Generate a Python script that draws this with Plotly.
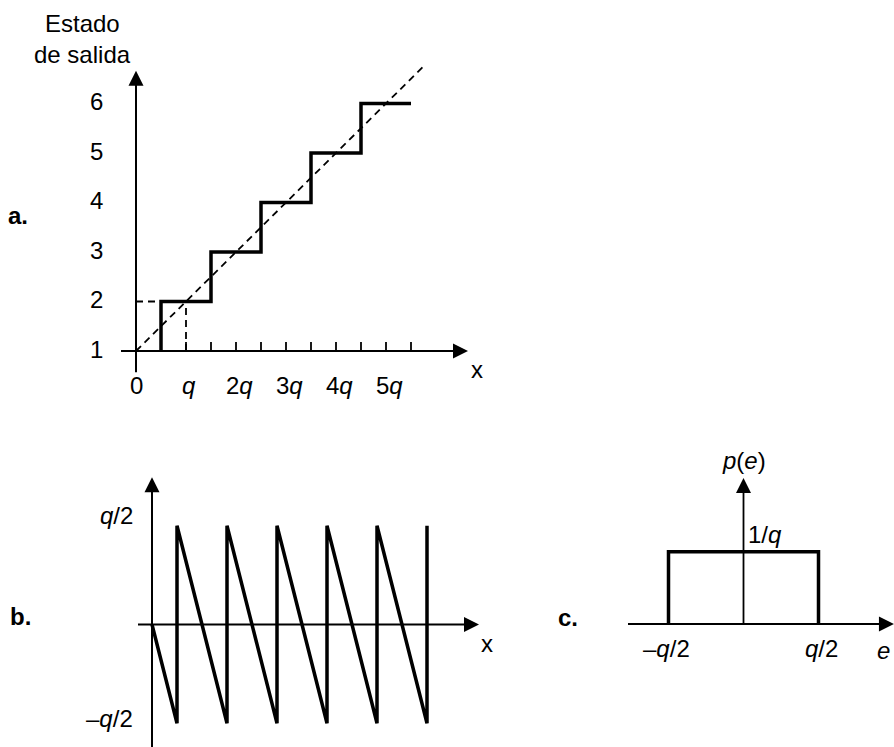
import plotly.graph_objects as go

W, H = 894, 747
FONT = "Liberation Sans, Arial, sans-serif"
FS = 24

# ---------- Panel a: quantizer staircase ----------
a_levels = [1, 2, 3, 4, 5, 6]
a_stair_x = [0.5, 0.5, 1.5, 1.5, 2.5, 2.5, 3.5, 3.5, 4.5, 4.5, 5.5]
a_stair_y = [1, 2, 2, 3, 3, 4, 4, 5, 5, 6, 6]
a_ideal_x = [0, 5.73]
a_ideal_y = [1, 6.73]
a_minor_ticks = [1.0, 1.5, 2.0, 2.5, 3.0, 3.5, 4.0, 4.5, 5.0, 5.5]
a_xlabel_pos = [0, 1, 2, 3, 4, 5]
a_xlabels = ["0", "<i>q</i>", "2<i>q</i>", "3<i>q</i>", "4<i>q</i>", "5<i>q</i>"]
a_ylabels = ["1", "2", "3", "4", "5", "6"]

# ---------- Panel b: quantization error sawtooth ----------
b_x = [0, 0.5, 0.5, 1.5, 1.5, 2.5, 2.5, 3.5, 3.5, 4.5, 4.5, 5.5, 5.5]
b_e = [0, -0.5, 0.5, -0.5, 0.5, -0.5, 0.5, -0.5, 0.5, -0.5, 0.5, -0.5, 0.5]
b_ylabel_pos = [0.5, -0.5]
b_ylabels = ["<i>q</i>/2", "\u2013<i>q</i>/2"]

# ---------- Panel c: uniform pdf ----------
c_e = [-0.5, -0.5, 0.5, 0.5]
c_p = [0, 1, 1, 0]
c_xlabel_pos = [-0.5, 0.5]
c_xlabels = ["\u2013<i>q</i>/2", "<i>q</i>/2"]


def panel(x0, sx, y0, sy, L, R, T, B):
    """pixel mapping: px = x0 + sx*x ; py = y0 - sy*y"""
    xr = [(L - x0) / sx, (R - x0) / sx]
    yr = [(y0 - B) / sy, (y0 - T) / sy]
    xd = [L / W, R / W]
    yd = [1 - B / H, 1 - T / H]
    return xr, yr, xd, yd


# mapping params (pixel geometry of each panel)
A = dict(x0=136, sx=50, y0=400.5, sy=49.5, L=0, R=520, T=0, B=430)
Bp = dict(x0=152, sx=50, y0=624.5, sy=197.6, L=0, R=520, T=440, B=747)
C = dict(x0=743.5, sx=150, y0=624, sy=72.3, L=530, R=894, T=430, B=747)

fig = go.Figure()
BLACK = "#000000"


def line(x, y, ref, width, dash="solid"):
    fig.add_trace(go.Scatter(x=x, y=y, mode="lines", xaxis=ref[0], yaxis=ref[1],
                             line=dict(color=BLACK, width=width, dash=dash),
                             hoverinfo="skip", showlegend=False))


def arrow(x, y, ref, sym, size=15):
    fig.add_trace(go.Scatter(x=[x], y=[y], mode="markers", xaxis=ref[0], yaxis=ref[1],
                             marker=dict(symbol=sym, size=size, color=BLACK,
                                         line=dict(width=0)),
                             cliponaxis=False, hoverinfo="skip", showlegend=False))


def text(x, y, s, ref, xanchor="center", yanchor="middle", xshift=0, yshift=0, size=FS):
    fig.add_annotation(x=x, y=y, text=s, xref=ref[0], yref=ref[1], showarrow=False,
                       xanchor=xanchor, yanchor=yanchor, xshift=xshift, yshift=yshift,
                       font=dict(family=FONT, size=size, color=BLACK))


ra, rb, rc = ("x", "y"), ("x2", "y2"), ("x3", "y3")

# ---- panel a ----
ya_tip = 6.66
xa_tip = 6.64
line([0, 0], [0.57, ya_tip - 0.1], ra, 2)
arrow(0, ya_tip, ra, "arrow-up")
line([-0.3, xa_tip - 0.1], [1, 1], ra, 2)
arrow(xa_tip, 1, ra, "arrow-right")
tx, ty = [], []
for t in a_minor_ticks:
    tx += [t, t, None]
    ty += [1, 1.18, None]
line(tx, ty, ra, 1.8)
line(a_ideal_x, a_ideal_y, ra, 1.8, dash="7px,5px")
line([0, a_stair_x[0]], [2, 2], ra, 1.8, dash="7px,5px")
line([1, 1], [1, 2], ra, 1.8, dash="7px,5px")
line(a_stair_x, a_stair_y, ra, 3.5)
for lv, lab in zip(a_levels, a_ylabels):
    text(-0.8, lv, lab, ra, yshift=2)
for p, lab in zip(a_xlabel_pos, a_xlabels):
    text(p, 1, lab, ra, yshift=-34, xshift=(0 if p == 0 else 3))
text(6.82, 1, "x", ra, yshift=-18)
text(-1.08, 7.62, "Estado", ra)
text(-1.08, 7.0, "de salida", ra)
text(-2.36, 3.73, "<b>a.</b>", ra)

# ---- panel b ----
yb_tip = 0.745
xb_tip = 6.54
line([0, 0], [-0.63, yb_tip - 0.05], rb, 2)
arrow(0, yb_tip, rb, "arrow-up")
line([-0.28, xb_tip - 0.1], [0, 0], rb, 2)
arrow(xb_tip, 0, rb, "arrow-right")
line(b_x, b_e, rb, 3.5)
text(-0.34, b_ylabel_pos[0], b_ylabels[0], rb, xanchor="right", yshift=10)
text(-0.34, b_ylabel_pos[1], b_ylabels[1], rb, xanchor="right", yshift=5)
text(6.7, 0, "x", rb, yshift=-19)
text(-2.64, 0, "<b>b.</b>", rb, yshift=8)

# ---- panel c ----
yc_tip = 2.02
xc_tip = 1.003
line([0, 0], [0, yc_tip - 0.1], rc, 1.8)
arrow(0, yc_tip, rc, "arrow-up")
line([-0.77, xc_tip - 0.05], [0, 0], rc, 2)
arrow(xc_tip, 0, rc, "arrow-right")
line(c_e, c_p, rc, 3.5)
text(0, yc_tip, "<i>p</i>(<i>e</i>)", rc, yshift=17)
text(0.143, 1, "1/<i>q</i>", rc, yshift=17)
for p, lab in zip(c_xlabel_pos, c_xlabels):
    text(p, 0, lab, rc, yshift=-24, xshift=(-2 if p < 0 else 3))
text(0.99, 0, "<i>e</i>", rc, yshift=-26, xanchor="right")
text(-1.17, 0, "<b>c.</b>", rc, yshift=7)

layout_axes = {}
for name, P in (("", A), ("2", Bp), ("3", C)):
    xr, yr, xd, yd = panel(**P)
    layout_axes["xaxis" + name] = dict(range=xr, domain=xd, visible=False, fixedrange=True,
                                       anchor="y" + name)
    layout_axes["yaxis" + name] = dict(range=yr, domain=yd, visible=False, fixedrange=True,
                                       anchor="x" + name)

fig.update_layout(width=W, height=H, margin=dict(l=0, r=0, t=0, b=0),
                  paper_bgcolor="white", plot_bgcolor="rgba(0,0,0,0)",
                  showlegend=False, **layout_axes)

fig.write_html("out.html", config={"displayModeBar": False})
